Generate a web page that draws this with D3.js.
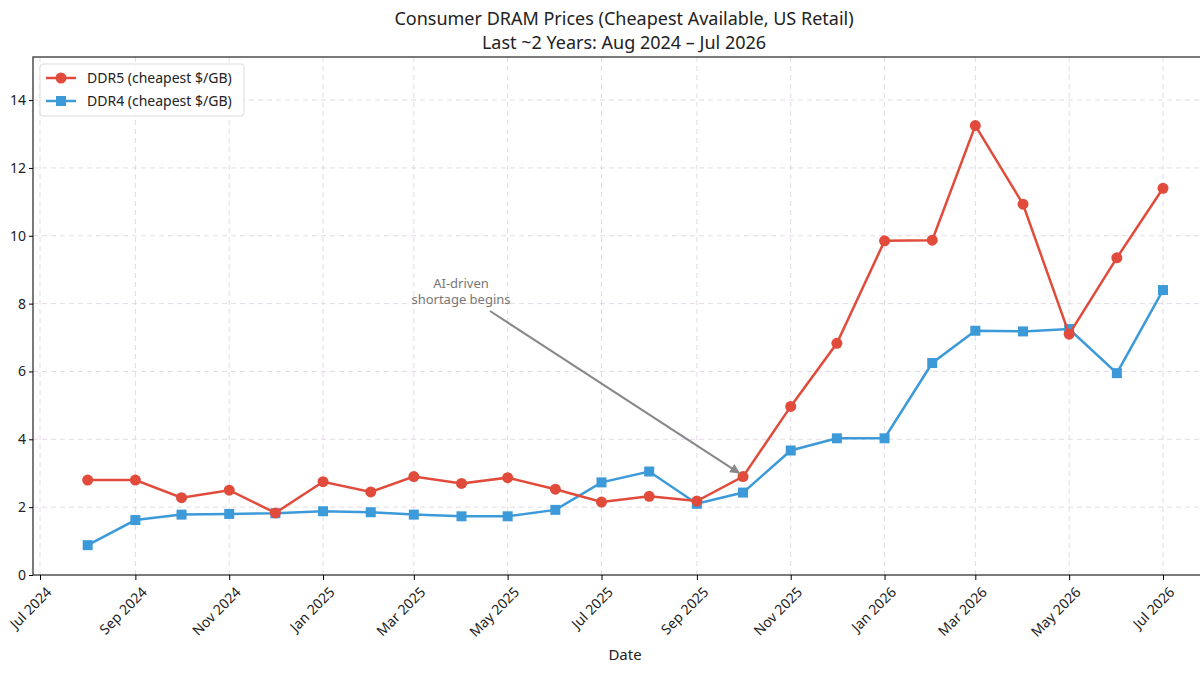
<!DOCTYPE html>
<html><head><meta charset="utf-8">
<script src="https://cdn.jsdelivr.net/npm/d3@7"></script>
<style>
body{margin:0;background:#fff;font-family:"Noto Sans",sans-serif;}
</style></head>
<body><div id="chart"></div>
<script>
// Data
var months = ["2024-08","2024-09","2024-10","2024-11","2024-12","2025-01","2025-02","2025-03","2025-04","2025-05","2025-06","2025-07",
  "2025-08","2025-09","2025-10","2025-11","2025-12","2026-01","2026-02","2026-03","2026-04","2026-05","2026-06","2026-07"];
var ddr5 = [2.8,2.8,2.28,2.5,1.83,2.75,2.45,2.9,2.7,2.87,2.53,2.15,2.32,2.18,2.9,4.97,6.83,9.85,9.87,13.25,10.93,7.1,9.35,11.4];
var ddr4 = [0.88,1.62,1.78,1.8,1.82,1.88,1.85,1.78,1.73,1.73,1.92,2.73,3.05,2.1,2.43,3.67,4.03,4.03,6.25,7.2,7.18,7.25,5.95,8.4];
var yTicks = [0,2,4,6,8,10,12,14];

var svgWidth = 1200, svgHeight = 675;
var plotL = 33, plotR = 1215, plotT = 57, plotB = 575;

var svg = d3.select("#chart").append("svg")
  .attr("width", svgWidth).attr("height", svgHeight);

var parse = d3.timeParse("%Y-%m");
var dates = months.map(parse);

var x = d3.scaleTime()
  .domain([new Date(2024,6,1), new Date(2026,6,1)])
  .range([40, 1163]);
var y = d3.scaleLinear().domain([0, 15.27]).range([plotB, plotT]);

var xTickDates = d3.timeMonth.every(2).range(new Date(2024,6,1), new Date(2026,6,2));
var fmt = d3.timeFormat("%b %Y");

// grid
svg.append("g").selectAll("line").data(xTickDates).enter().append("line")
  .attr("x1", d => x(d)).attr("x2", d => x(d)).attr("y1", plotT).attr("y2", plotB)
  .attr("stroke", "#dcd0e0").attr("stroke-dasharray", "5,4").attr("stroke-width", 0.8);
svg.append("g").selectAll("line").data(yTicks.slice(1)).enter().append("line")
  .attr("x1", plotL).attr("x2", plotR).attr("y1", d => y(d)).attr("y2", d => y(d))
  .attr("stroke", "#dcd0e0").attr("stroke-dasharray", "5,4").attr("stroke-width", 0.8);

// frame
svg.append("rect").attr("x", plotL).attr("y", plotT).attr("width", plotR - plotL).attr("height", plotB - plotT)
  .attr("fill", "none").attr("stroke", "#222").attr("stroke-width", 1.2);

// axes
var xAxis = svg.append("g").attr("transform", `translate(0,${plotB})`)
  .call(d3.axisBottom(x).tickValues(xTickDates).tickFormat(fmt).tickSizeOuter(0).tickSize(5));
xAxis.select(".domain").remove();
xAxis.selectAll("text")
  .attr("font-family", "Noto Sans").attr("font-size", 14).attr("fill", "#222")
  .attr("text-anchor", "end").attr("x", 0).attr("y", 0)
  .attr("transform", "translate(5,11) rotate(-45)");

var yAxis = svg.append("g").attr("transform", `translate(${plotL},0)`)
  .call(d3.axisLeft(y).tickValues(yTicks).tickSizeOuter(0).tickSize(4));
yAxis.select(".domain").remove();
yAxis.selectAll("text").attr("font-family", "Noto Sans").attr("font-size", 14).attr("fill", "#222");

// lines
var line = d3.line().x((d, i) => x(dates[i])).y(d => y(d));
svg.append("path").datum(ddr4).attr("d", line).attr("fill", "none")
  .attr("stroke", "#3d9ad9").attr("stroke-width", 2.5);
svg.append("g").selectAll("rect").data(ddr4).enter().append("rect")
  .attr("x", (d, i) => x(dates[i]) - 5).attr("y", d => y(d) - 5)
  .attr("width", 10).attr("height", 10).attr("fill", "#3d9ad9");

svg.append("path").datum(ddr5).attr("d", line).attr("fill", "none")
  .attr("stroke", "#e14b3b").attr("stroke-width", 2.5);
svg.append("g").selectAll("circle").data(ddr5).enter().append("circle")
  .attr("cx", (d, i) => x(dates[i])).attr("cy", d => y(d)).attr("r", 5.5).attr("fill", "#e14b3b");

// annotation
svg.append("defs").append("marker").attr("id", "arr").attr("viewBox", "0 0 10 10")
  .attr("refX", 10).attr("refY", 5).attr("markerWidth", 5).attr("markerHeight", 5).attr("orient", "auto")
  .append("path").attr("d", "M0,0 L10,5 L0,10 z").attr("fill", "#888");
svg.append("line")
  .attr("x1", 490).attr("y1", 311).attr("x2", x(dates[14]) - 3).attr("y2", y(ddr5[14]) - 3)
  .attr("stroke", "#888").attr("stroke-width", 2).attr("marker-end", "url(#arr)");
var ann = svg.append("text").attr("text-anchor", "middle")
  .attr("font-family", "Noto Sans").attr("font-size", 13).attr("fill", "#777");
ann.append("tspan").attr("x", 461).attr("y", 288).text("AI-driven");
ann.append("tspan").attr("x", 461).attr("y", 304).text("shortage begins");

// legend
var lg = svg.append("g").attr("transform", "translate(40,64)");
lg.append("rect").attr("width", 204).attr("height", 52).attr("rx", 3)
  .attr("fill", "#fff").attr("fill-opacity", 0.85).attr("stroke", "#ddd");
var items = [{label: "DDR5 (cheapest $/GB)", color: "#e14b3b", shape: "c"},
             {label: "DDR4 (cheapest $/GB)", color: "#3d9ad9", shape: "s"}];
items.forEach(function (it, i) {
  var gy = 14 + i * 23;
  lg.append("line").attr("x1", 6).attr("x2", 36).attr("y1", gy).attr("y2", gy)
    .attr("stroke", it.color).attr("stroke-width", 2.5);
  if (it.shape == "c") lg.append("circle").attr("cx", 21).attr("cy", gy).attr("r", 5.5).attr("fill", it.color);
  else lg.append("rect").attr("x", 16).attr("y", gy - 5).attr("width", 10).attr("height", 10).attr("fill", it.color);
  lg.append("text").attr("x", 47).attr("y", gy + 5).attr("font-family", "Noto Sans")
    .attr("font-size", 14).attr("fill", "#222").text(it.label);
});

// titles
svg.append("text").attr("x", 624).attr("y", 25).attr("text-anchor", "middle")
  .attr("font-family", "Noto Sans").attr("font-size", 18).attr("fill", "#222")
  .text("Consumer DRAM Prices (Cheapest Available, US Retail)");
svg.append("text").attr("x", 624).attr("y", 49).attr("text-anchor", "middle")
  .attr("font-family", "Noto Sans").attr("font-size", 18).attr("fill", "#222")
  .text("Last ~2 Years: Aug 2024 – Jul 2026");
svg.append("text").attr("x", 625).attr("y", 660).attr("text-anchor", "middle")
  .attr("font-family", "Noto Sans").attr("font-size", 15).attr("fill", "#222").text("Date");
</script></body></html>
